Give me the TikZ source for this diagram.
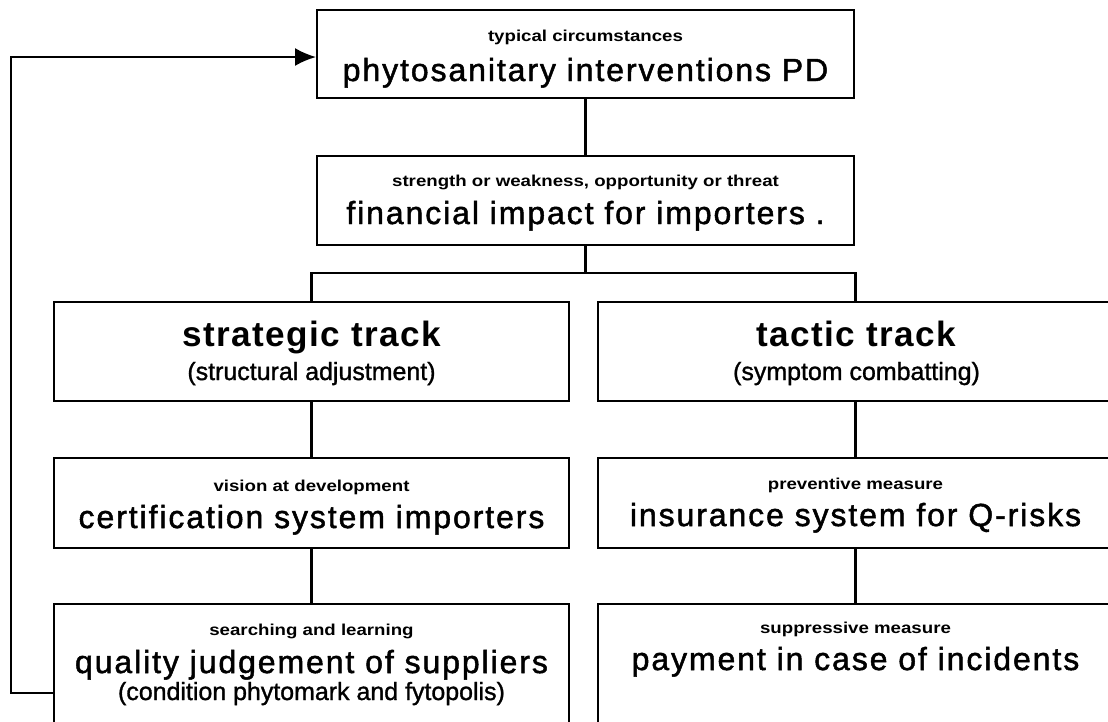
\documentclass[tikz,border=0pt]{standalone}
\usepackage{fontspec}
\setmainfont{Liberation Sans}
\newfontfamily\bigfont[LetterSpace=6, FakeBold=1.5]{Liberation Sans}
\newfontfamily\trackfont[LetterSpace=4]{Liberation Sans}
\newfontfamily\subfont[FakeBold=1.2]{Liberation Sans}
\newfontfamily\smallfont[FakeStretch=1.18]{Liberation Sans}
\usetikzlibrary{arrows.meta,positioning}
\tikzset{
  box/.style = {draw, line width=1.2pt, inner sep=0pt},
  widebox/.style = {box, minimum width=10.74cm, minimum height=1.77cm},
  halfbox/.style = {box, minimum width=10.3cm, minimum height=1.8cm},
  uptext/.style = {anchor=base, inner sep=0pt, font=\smallfont\bfseries\fontsize{9}{10}\selectfont},
  maintext/.style = {anchor=base, inner sep=0pt, font=\bigfont\fontsize{18.2}{21}\selectfont},
  tracktext/.style = {anchor=base, inner sep=0pt, font=\trackfont\bfseries\fontsize{20}{24}\selectfont},
  subtext/.style = {anchor=base, inner sep=0pt, font=\subfont\fontsize{14.2}{16}\selectfont},
  link/.style = {line width=1.2pt},
  feedback/.style = {line width=1.2pt, -{Latex[length=0.42cm,width=0.36cm]}},
}

\begin{document}
\begin{tikzpicture}[x=0.02cm, y=-0.02cm]
  \useasboundingbox (0,0) rectangle (1108,721);
  \clip (0,0) rectangle (1108,721);

  % circumstances and impact
  \node[widebox] (circ) at (585.5,54) {};
  \node[uptext] (circ-s) at (585.5,41) {typical circumstances};
  \node[maintext] (circ-m) at (585.5,81) {phytosanitary interventions PD};

  \node[widebox] (impact) at (585.5,200.5) {};
  \node[uptext] (impact-s) at (585.5,186) {strength or weakness, opportunity or threat};
  \node[maintext] (impact-m) at (585.5,224) {financial impact for importers .};

  % the two tracks
  \node[halfbox, minimum height=1.98cm] (strat) at (311.5,351.5) {};
  \node[tracktext] (strat-m) at (311.5,346) {strategic track};
  \node[subtext] (strat-s) at (311.5,380) {(structural adjustment)};

  \node[halfbox, minimum height=1.98cm] (tactic) at (855.5,351.5) {};
  \node[tracktext] (tactic-m) at (856.5,346) {tactic track};
  \node[subtext] (tactic-s) at (856.5,380) {(symptom combatting)};

  % measures
  \node[halfbox] (vision) at (311.5,503) {};
  \node[uptext] (vision-s) at (311.5,491) {vision at development};
  \node[maintext] (vision-m) at (311.5,528) {certification system importers};

  \node[halfbox] (insure) at (855.5,503) {};
  \node[uptext] (insure-s) at (855.5,489) {preventive measure};
  \node[maintext] (insure-m) at (855.5,526) {insurance system for Q-risks};

  \node[halfbox, minimum height=2.8cm] (quality) at (311.5,674) {};
  \node[uptext] (quality-s) at (311.5,635) {searching and learning};
  \node[maintext] (quality-m) at (311.5,673) {quality judgement of suppliers};
  \node[subtext] (quality-c) at (311.5,700) {(condition phytomark and fytopolis)};

  \node[halfbox, minimum height=2.8cm] (payment) at (855.5,674) {};
  \node[uptext] (payment-s) at (855.5,633) {suppressive measure};
  \node[maintext] (payment-m) at (855.5,670) {payment in case of incidents};

  % connectors
  \coordinate (fork) at (585.5,273);
  \draw[link] (circ) -- (impact);
  \draw[link] (impact) -- (fork);
  \draw[link] (strat.north) |- (fork) -| (tactic.north);
  \draw[link] (strat) -- (vision);
  \draw[link] (vision) -- (quality);
  \draw[link] (tactic) -- (insure);
  \draw[link] (insure) -- (payment);

  % loop back to the top
  \coordinate (loop-in) at (54,693);
  \coordinate (loop-top) at (11,57);
  \draw[feedback] (loop-in) -| (loop-top) -- (circ.west |- loop-top);
\end{tikzpicture}
\end{document}
